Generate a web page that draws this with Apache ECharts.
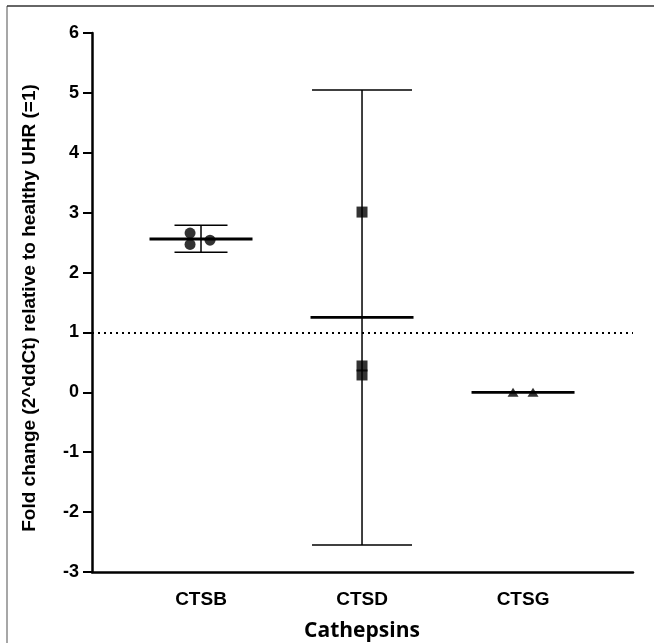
<!DOCTYPE html>
<html>
<head>
<meta charset="utf-8">
<script src="https://cdn.jsdelivr.net/npm/echarts@6/dist/echarts.min.js"></script>
<style>
html,body{margin:0;padding:0;background:#fff;}
#chart{width:654px;height:643px;}
</style>
</head>
<body>
<div id="chart"></div>
<script>
// ---- data ----
const categories = ['CTSB', 'CTSD', 'CTSG'];
const ctsbValues = [2.66, 2.47, 2.54];
const ctsdValues = [3.01, 0.44, 0.29];
const ctsgValues = [0.0, 0.0];
const ctsbJitter = [-0.068, -0.068, 0.056];
const ctsdJitter = [0, 0, 0];
const ctsgJitter = [-0.062, 0.062];
const means = [2.56, 1.25, 0.0];
const ciLow = [2.34, -2.55, 0.0];
const ciHigh = [2.79, 5.05, 0.0];
const referenceLevel = 1;
const yTickLabels = ['-3', '-2', '-1', '0', '1', '2', '3', '4', '5', '6'];
const xTitle = 'Cathepsins';
const yTitle = 'Fold change (2^ddCt) relative to healthy UHR (=1)';

// ---- build ----
const capHalfPx = [26.5, 50, 0];
const meanHalfPx = 51.5;

function pts(vals, jit, idx) {
  return vals.map((v, i) => [idx + 1 + jit[i], v]);
}
const summary = categories.map((c, i) => [i + 1, means[i], ciLow[i], ciHigh[i], i]);

const chart = echarts.init(document.getElementById('chart'));
const fontTick = '"Liberation Sans", Arial, sans-serif';

chart.setOption({
  animation: false,
  backgroundColor: '#fff',
  grid: { left: 92, right: 21, top: 33, bottom: 71 },
  xAxis: {
    type: 'value',
    min: 0.323,
    max: 3.683,
    axisLine: { show: true, onZero: false, lineStyle: { color: '#000', width: 2.5 } },
    axisTick: { show: false },
    splitLine: { show: false },
    axisLabel: {
      customValues: [1, 2, 3],
      formatter: v => categories[Math.round(v) - 1],
      margin: 18,
      color: '#000',
      fontWeight: 'bold',
      fontSize: 19,
      fontFamily: fontTick
    }
  },
  yAxis: {
    type: 'value',
    min: -3,
    max: 6,
    interval: 1,
    axisLine: { show: true, onZero: false, lineStyle: { color: '#000', width: 2.5 } },
    axisTick: { show: true, length: 9, lineStyle: { color: '#000', width: 2 } },
    splitLine: { show: false },
    axisLabel: {
      margin: 13,
      color: '#000',
      fontWeight: 'bold',
      fontSize: 18,
      fontFamily: fontTick,
      formatter: v => yTickLabels[yTickLabels.indexOf(String(v))] || String(v)
    }
  },
  graphic: [
    { type: 'line', shape: { x1: 7, y1: 643, x2: 7, y2: 6 }, style: { stroke: '#8a8a8a', lineWidth: 1.5 } },
    { type: 'line', shape: { x1: 7, y1: 6, x2: 654, y2: 6 }, style: { stroke: '#333', lineWidth: 1.5 } },
    {
      type: 'text', x: 30, y: 308, rotation: Math.PI / 2,
      style: { text: yTitle, fill: '#000', font: 'bold 19px "Liberation Sans", Arial, sans-serif', textAlign: 'center', textVerticalAlign: 'middle' }
    },
    {
      type: 'text', x: 362, y: 631,
      style: { text: xTitle, fill: '#000', font: 'bold 21px "Open Sans", sans-serif', textAlign: 'center', textVerticalAlign: 'middle' }
    }
  ],
  series: [
    {
      type: 'custom',
      data: summary,
      z: 3,
      renderItem: function (params, api) {
        const x = api.value(0);
        const m = api.coord([x, api.value(1)]);
        const lo = api.coord([x, api.value(2)]);
        const hi = api.coord([x, api.value(3)]);
        const cap = capHalfPx[api.value(4)];
        const children = [];
        if (cap > 0) {
          children.push({ type: 'line', shape: { x1: m[0], y1: lo[1], x2: m[0], y2: hi[1] }, style: { stroke: '#000', lineWidth: 1.5 } });
          children.push({ type: 'line', shape: { x1: m[0] - cap, y1: hi[1], x2: m[0] + cap, y2: hi[1] }, style: { stroke: '#000', lineWidth: 1.5 } });
          children.push({ type: 'line', shape: { x1: m[0] - cap, y1: lo[1], x2: m[0] + cap, y2: lo[1] }, style: { stroke: '#000', lineWidth: 1.5 } });
        }
        children.push({ type: 'line', shape: { x1: m[0] - meanHalfPx, y1: m[1], x2: m[0] + meanHalfPx, y2: m[1] }, style: { stroke: '#000', lineWidth: 2.8 } });
        return { type: 'group', children: children };
      },
      markLine: {
        silent: true,
        symbol: 'none',
        label: { show: false },
        lineStyle: { color: '#000', type: [2, 4], width: 2 },
        data: [{ yAxis: referenceLevel }]
      }
    },
    {
      type: 'scatter', data: pts(ctsbValues, ctsbJitter, 0), symbol: 'circle', symbolSize: 11,
      itemStyle: { color: '#000' }, z: 4
    },
    {
      type: 'scatter', data: pts(ctsdValues, ctsdJitter, 1), symbol: 'rect', symbolSize: 11,
      itemStyle: { color: '#000' }, z: 4
    },
    {
      type: 'scatter', data: pts(ctsgValues, ctsgJitter, 2), symbol: 'triangle', symbolSize: [11, 9],
      itemStyle: { color: '#000' }, z: 4
    }
  ]
});
</script>
</body>
</html>
